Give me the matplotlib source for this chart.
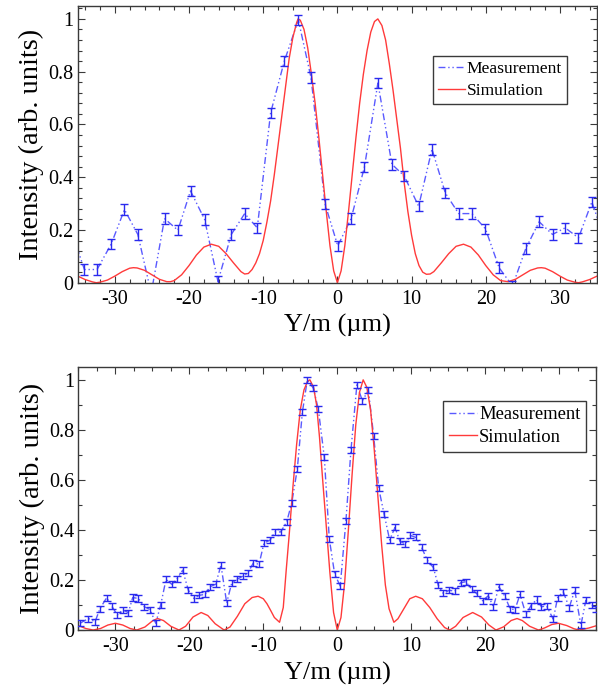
import matplotlib
matplotlib.use('Agg')
import matplotlib.pyplot as plt
from matplotlib.ticker import MultipleLocator, FuncFormatter

# ---------------- data: top panel ----------------
top_meas_x = [-35.9, -34.1, -32.4, -30.5, -28.7, -26.9, -25.1, -23.3, -21.5, -19.8,
              -17.9, -16.1, -14.3, -12.5, -10.8, -9.0, -7.15, -5.26, -3.55, -1.66,
              0.05, 1.85, 3.65, 5.46, 7.35, 9.0, 10.95, 12.75, 14.55, 16.35,
              18.15, 19.96, 21.8, 23.6, 25.4, 27.2, 29.0, 30.7, 32.5, 34.3, 36.1]
top_meas_y = [0.20, 0.05, 0.05, 0.146, 0.277, 0.183, -0.04, 0.243, 0.199, 0.348,
              0.240, 0.005, 0.183, 0.262, 0.208, 0.644, 0.84, 0.996, 0.777, 0.298,
              0.14, 0.243, 0.439, 0.757, 0.449, 0.405, 0.29, 0.506, 0.340, 0.262,
              0.262, 0.204, 0.057, -0.013, 0.13, 0.231, 0.183, 0.208, 0.170, 0.306, 0.16]
top_meas_err = [0.02] * len(top_meas_x)

top_sim_x = [-35, -34, -33, -32.5, -32, -31, -30, -29, -28, -27.5, -27, -26, -25, -24, -23,
             -22.5, -22, -21, -20, -19, -18, -17, -16, -15, -14, -13, -12.5, -12, -11.5,
             -11, -10.5, -10, -9.5, -9, -8.5, -8, -7.5, -7, -6.5, -6, -5.5, -5.3, -5,
             -4.5, -4, -3.5, -3, -2.5, -2, -1.5, -1, -0.5, 0,
             0.5, 1, 1.5, 2, 2.5, 3, 3.5, 4, 4.5, 5, 5.45, 6, 6.5, 7, 7.5, 8, 8.5, 9,
             9.5, 10, 10.5, 11, 11.5, 12, 12.5, 13, 14, 15, 16, 17, 18, 19, 20, 21, 22,
             23, 24, 25, 26, 27, 27.5, 28, 29, 30, 31, 32, 32.5, 33, 34, 35]
top_sim_y = [0.025, 0.012, 0.003, 0.0, 0.002, 0.010, 0.025, 0.042, 0.055, 0.057, 0.056,
             0.047, 0.030, 0.013, 0.004, 0.004, 0.008, 0.030, 0.065, 0.105, 0.135, 0.146,
             0.138, 0.110, 0.075, 0.042, 0.033, 0.035, 0.05, 0.075, 0.11, 0.16, 0.23,
             0.31, 0.41, 0.52, 0.63, 0.74, 0.85, 0.93, 0.985, 1.0, 0.995, 0.96, 0.89,
             0.79, 0.68, 0.55, 0.41, 0.27, 0.14, 0.045, 0.0,
             0.045, 0.14, 0.27, 0.41, 0.55, 0.68, 0.79, 0.88, 0.95, 0.99, 1.0, 0.975,
             0.92, 0.83, 0.73, 0.62, 0.51, 0.38, 0.27, 0.18, 0.11, 0.065, 0.04, 0.032,
             0.033, 0.042, 0.075, 0.110, 0.138, 0.146, 0.135, 0.105, 0.065, 0.030, 0.008,
             0.004, 0.013, 0.030, 0.047, 0.056, 0.057, 0.055, 0.042, 0.025, 0.010, 0.002,
             0.0, 0.003, 0.012, 0.025]

# ---------------- data: bottom panel ----------------
bot_meas_x = [-34.77, -33.64, -32.74, -32.07, -31.17, -30.49, -29.73, -29.01, -28.24, -27.65,
              -26.88, -26.08, -25.31, -24.54, -23.87, -23.15, -22.38, -21.71, -20.90, -20.13,
              -19.37, -18.65, -17.88, -17.21, -16.44, -15.72, -14.95, -14.28, -13.60, -12.79,
              -12.12, -11.35, -10.58, -9.90, -9.09, -8.42, -7.65, -6.84, -6.16, -5.40,
              -4.72, -4.05, -3.24, -2.56, -1.75, -1.08, -0.35, 0.40, 1.17, 1.85,
              2.65, 3.40, 4.20, 4.92, 5.60, 6.34, 7.08, 7.80, 8.47, 9.20,
              9.87, 10.65, 11.40, 12.17, 12.98, 13.65, 14.33, 15.14, 15.90, 16.67,
              17.39, 18.16, 18.83, 19.64, 20.41, 21.10, 21.85, 22.66, 23.34, 24.00,
              24.70, 25.50, 26.20, 26.94, 27.60, 28.30, 29.20, 29.78, 30.54, 31.35,
              32.10, 32.93, 33.60, 34.40, 34.96]
bot_meas_y = [0.027, 0.046, 0.033, 0.086, 0.129, 0.096, 0.060, 0.080, 0.070, 0.130,
              0.126, 0.093, 0.082, 0.027, 0.100, 0.202, 0.183, 0.202, 0.239, 0.159,
              0.126, 0.139, 0.142, 0.173, 0.183, 0.259, 0.109, 0.186, 0.202, 0.215,
              0.226, 0.268, 0.263, 0.348, 0.359, 0.392, 0.392, 0.432, 0.507, 0.644,
              0.870, 1.000, 0.967, 0.883, 0.690, 0.365, 0.223, 0.176, 0.436, 0.719,
              0.980, 0.916, 0.959, 0.776, 0.567, 0.462, 0.360, 0.410, 0.355, 0.344,
              0.378, 0.370, 0.330, 0.279, 0.250, 0.179, 0.146, 0.159, 0.155, 0.189,
              0.193, 0.163, 0.146, 0.117, 0.137, 0.093, 0.173, 0.135, 0.086, 0.080,
              0.142, 0.063, 0.098, 0.122, 0.093, 0.096, 0.043, 0.129, 0.153, 0.090,
              0.159, 0.019, 0.119, 0.100, 0.086]
bot_meas_err = [0.012] * len(bot_meas_x)

bot_sim_x = [-35, -34, -33, -32, -31, -30, -29, -28, -27.1, -26, -25, -24.3, -23.5, -22.5,
             -21.4, -20.5, -19.5, -18.4, -17.5, -16.5, -15.3, -14.5, -13.5, -12.5, -11.5,
             -10.7, -10, -9.5, -9, -8.5, -7.8, -7.3, -6.9, -6.5, -6, -5.5, -5, -4.5, -4,
             -3.7, -3.2, -2.8, -2.4, -2, -1.5, -1, -0.5, 0,
             0.5, 1, 1.5, 2, 2.5, 3, 3.5, 4, 4.5, 5, 5.5, 6, 6.5, 7, 7.65, 8.2, 9, 9.8,
             10.6, 11.5, 12.5, 13.5, 14.5, 15.2, 16, 17, 18.3, 19.5, 20.5, 21.45, 22.5,
             23.5, 24.3, 25, 26, 27.2, 28, 29, 29.9, 31, 32, 32.7, 34, 35]
bot_sim_y = [0.018, 0.006, 0.0, 0.006, 0.020, 0.027, 0.020, 0.006, 0.0, 0.012, 0.036,
             0.046, 0.038, 0.015, 0.0, 0.015, 0.052, 0.070, 0.058, 0.025, 0.0, 0.012,
             0.055, 0.105, 0.130, 0.135, 0.125, 0.105, 0.078, 0.050, 0.031, 0.09, 0.24,
             0.38, 0.57, 0.74, 0.88, 0.96, 0.995, 1.0, 0.97, 0.90, 0.77, 0.61, 0.42, 0.23,
             0.07, 0.0,
             0.05, 0.19, 0.40, 0.62, 0.82, 0.95, 1.0, 0.97, 0.88, 0.72, 0.53, 0.34, 0.18,
             0.085, 0.031, 0.045, 0.085, 0.125, 0.135, 0.125, 0.09, 0.045, 0.01, 0.0,
             0.015, 0.05, 0.07, 0.052, 0.02, 0.0, 0.013, 0.038, 0.046, 0.038, 0.015, 0.0,
             0.008, 0.022, 0.027, 0.018, 0.005, 0.0, 0.008, 0.017]

x_ticks = [-30, -20, -10, 0, 10, 20, 30]
y_ticks = [0, 0.2, 0.4, 0.6, 0.8, 1.0]
x_label = 'Y/m (µm)'
y_label = 'Intensity (arb. units)'

# ---------------- style ----------------
plt.rcParams['font.family'] = ['Liberation Serif', 'DejaVu Serif']
plt.rcParams['axes.unicode_minus'] = False

meas_line_color = '#5a5aff'
meas_err_color = '#2a2aee'
sim_color = '#ff3a3a'
spine_color = '#3a3a3a'
dash = (0, (5, 2, 1, 2, 1, 2))

fig = plt.figure(figsize=(5.98, 6.96), dpi=100)
ax1 = fig.add_axes([0.130, 0.5938, 0.8684, 0.398])
ax2 = fig.add_axes([0.131, 0.0948, 0.866, 0.3774])


def style_axis(ax, xminor, yminor):
    ax.set_xlim(-35, 35)
    ax.set_ylim(0, 1.05)
    ax.set_xticks(x_ticks)
    ax.set_yticks(y_ticks)
    ax.xaxis.set_minor_locator(MultipleLocator(xminor))
    ax.yaxis.set_minor_locator(MultipleLocator(yminor))
    ax.yaxis.set_major_formatter(FuncFormatter(lambda v, p: '%g' % round(v, 2)))
    ax.xaxis.set_major_formatter(FuncFormatter(lambda v, p: '%d' % round(v)))
    ax.tick_params(which='both', direction='in', top=True, right=True,
                   colors=spine_color, labelcolor='black', labelsize=14.5, width=0.8)
    ax.tick_params(which='major', length=5)
    ax.tick_params(which='minor', length=2.8)
    ax.tick_params(axis='x', which='major', pad=5)
    ax.tick_params(axis='y', which='major', pad=3)
    for s in ax.spines.values():
        s.set_color(spine_color)
        s.set_linewidth(1.0)
    ax.set_xlabel(x_label, fontsize=19, labelpad=4)
    ax.set_ylabel(y_label, fontsize=20.5, labelpad=3)


# top panel
ax1.errorbar(top_meas_x, top_meas_y, yerr=top_meas_err, fmt='none', ecolor=meas_err_color,
             elinewidth=1.0, capsize=2.9, capthick=1.0, zorder=3)
ax1.plot(top_meas_x, top_meas_y, color=meas_line_color, lw=1.0, linestyle=dash,
         label='Measurement', zorder=2)
ax1.plot(top_sim_x, top_sim_y, color=sim_color, lw=1.0, label='Simulation', zorder=2)
style_axis(ax1, 2, 0.04)
leg1 = ax1.legend(loc='upper left', bbox_to_anchor=(0.6836, 0.8195), borderaxespad=0,
                  fontsize=12.6, fancybox=False, framealpha=1, edgecolor=spine_color,
                  borderpad=0.3, handlelength=1.55, handletextpad=0.1, labelspacing=0.3)
leg1.get_frame().set_linewidth(1.0)

# bottom panel
ax2.errorbar(bot_meas_x, bot_meas_y, yerr=bot_meas_err, fmt='none', ecolor=meas_err_color,
             elinewidth=1.0, capsize=2.6, capthick=1.0, zorder=3)
ax2.plot(bot_meas_x, bot_meas_y, color=meas_line_color, lw=1.0, linestyle=dash,
         label='Measurement', zorder=2)
ax2.plot(bot_sim_x, bot_sim_y, color=sim_color, lw=1.0, label='Simulation', zorder=2)
style_axis(ax2, 2.5, 0.1)
leg2 = ax2.legend(loc='upper left', bbox_to_anchor=(0.704, 0.873), borderaxespad=0,
                  fontsize=13.4, fancybox=False, framealpha=1, edgecolor=spine_color,
                  borderpad=0.3, handlelength=1.55, handletextpad=0.1, labelspacing=0.3)
leg2.get_frame().set_linewidth(1.0)

fig.savefig('out.png', dpi=100)
